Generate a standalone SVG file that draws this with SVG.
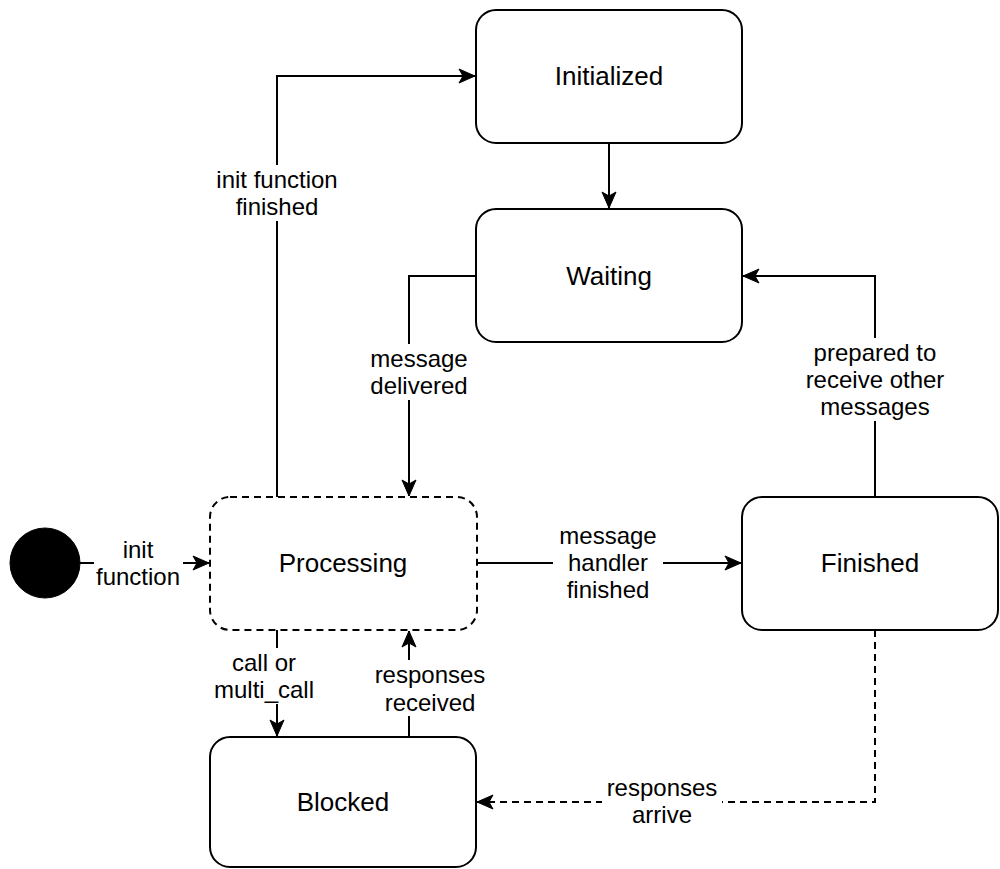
<svg xmlns="http://www.w3.org/2000/svg" width="1000" height="869" viewBox="0 0 1000 869">
<defs>
<style>
.node{fill:#fff;stroke:#000;stroke-width:2}
.dash{stroke-dasharray:7 5}
.t{font-family:"Liberation Sans",Arial,sans-serif;font-size:24px;text-anchor:middle;fill:#000}
.n{font-family:"Liberation Sans",Arial,sans-serif;font-size:26px;text-anchor:middle;fill:#000}
.e{fill:none;stroke:#000;stroke-width:2}
.bg{fill:#fff}
</style>
<marker id="ah" markerUnits="userSpaceOnUse" markerWidth="18" markerHeight="16" refX="17" refY="8" orient="auto">
<path d="M1,1 L17,8 L1,15 L5,8 Z" fill="#000" stroke="#000" stroke-width="1"/>
</marker>
</defs>
<rect width="1000" height="869" fill="#fff"/>
<g id="connectors">
<path class="e" d="M80,563 L209,563" marker-end="url(#ah)"/>
<path class="e" d="M277,497 L277,76 L475,76" marker-end="url(#ah)"/>
<path class="e" d="M609,143 L609,208" marker-end="url(#ah)"/>
<path class="e" d="M476,276 L409,276 L409,496" marker-end="url(#ah)"/>
<path class="e" d="M477,563 L741,563" marker-end="url(#ah)"/>
<path class="e" d="M875,497 L875,276 L743,276" marker-end="url(#ah)"/>
<path class="e" d="M277,630 L277,736" marker-end="url(#ah)"/>
<path class="e" d="M409,736 L409,631" marker-end="url(#ah)"/>
<path class="e dash" d="M875,630 L875,802 L477,802" marker-end="url(#ah)"/>
<g id="labels">
<rect class="bg" x="94" y="534" width="89" height="56"/>
<text class="t" x="138" y="558">init</text>
<text class="t" x="138" y="585">function</text>
<rect class="bg" x="212" y="165" width="130" height="56"/>
<text class="t" x="277" y="188">init function</text>
<text class="t" x="277" y="215">finished</text>
<rect class="bg" x="366" y="344" width="106" height="56"/>
<text class="t" x="419" y="367">message</text>
<text class="t" x="419" y="394">delivered</text>
<rect class="bg" x="808" y="338" width="134" height="83"/>
<text class="t" x="875" y="361">prepared to</text>
<text class="t" x="875" y="388">receive other</text>
<text class="t" x="875" y="415">messages</text>
<rect class="bg" x="553" y="521" width="110" height="83"/>
<text class="t" x="608" y="544">message</text>
<text class="t" x="608" y="571">handler</text>
<text class="t" x="608" y="598">finished</text>
<rect class="bg" x="210" y="648" width="108" height="56"/>
<text class="t" x="264" y="671">call or</text>
<text class="t" x="264" y="698">multi_call</text>
<rect class="bg" x="370" y="660" width="120" height="56"/>
<text class="t" x="430" y="683">responses</text>
<text class="t" x="430" y="711">received</text>
<rect class="bg" x="602" y="773" width="120" height="56"/>
<text class="t" x="662" y="796">responses</text>
<text class="t" x="662" y="823">arrive</text>
</g>
</g>
<g id="start"><circle cx="45" cy="563" r="35" fill="#000" stroke="#000" stroke-width="1"/></g>
<g id="initialized"><rect class="node" x="476" y="10" width="266" height="133" rx="20"/><text class="n" x="609" y="85">Initialized</text></g>
<g id="waiting"><rect class="node" x="476" y="209" width="266" height="133" rx="20"/><text class="n" x="609" y="285">Waiting</text></g>
<g id="processing"><rect class="node dash" x="210" y="497" width="267" height="133" rx="20"/><text class="n" x="343" y="572">Processing</text></g>
<g id="finished"><rect class="node" x="742" y="497" width="256" height="133" rx="20"/><text class="n" x="870" y="572">Finished</text></g>
<g id="blocked"><rect class="node" x="210" y="737" width="266" height="130" rx="20"/><text class="n" x="343" y="811">Blocked</text></g>
</svg>
